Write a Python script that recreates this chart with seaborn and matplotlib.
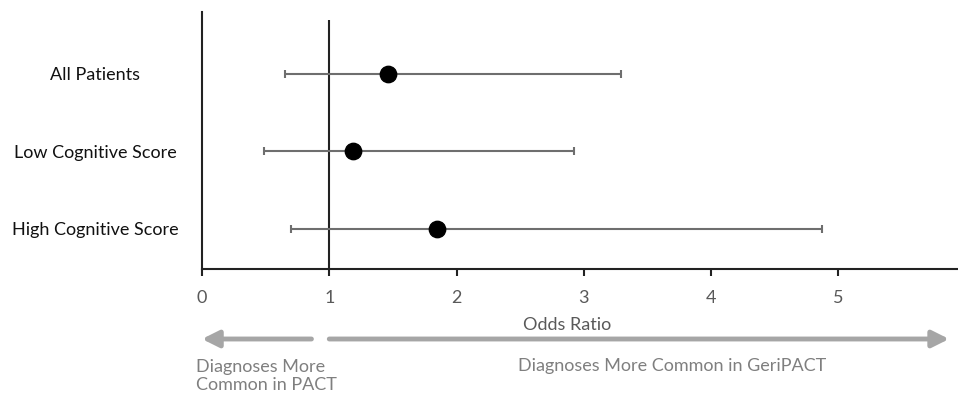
import matplotlib.pyplot as plt
import pandas as pd
import seaborn as sns

groups = ["All Patients", "Low Cognitive Score", "High Cognitive Score"]
odds_ratio = [1.46, 1.19, 1.85]
ci_low = [0.65, 0.49, 0.70]
ci_high = [3.29, 2.92, 4.87]
x_ticks = [0, 1, 2, 3, 4, 5]

df = pd.DataFrame({"group": groups, "or": odds_ratio, "lo": ci_low, "hi": ci_high})
df["pos"] = range(len(df))

sns.set_style("white")
plt.rcParams["font.family"] = ["Lato", "DejaVu Sans"]

fig = plt.figure(figsize=(9.58, 3.96), dpi=100)
ax = fig.add_axes([202 / 958, 127 / 396, 756 / 958, 257 / 396])

ax.errorbar(df["or"], df["pos"], xerr=[df["or"] - df["lo"], df["hi"] - df["or"]],
            fmt="none", ecolor="#6e6e6e", elinewidth=1.5, capsize=3, capthick=1.5, zorder=2)
sns.scatterplot(data=df, x="or", y="pos", color="black", s=140, edgecolor="black",
                zorder=3, ax=ax)
ax.vlines(1, -0.7, 2.52, color="#222222", lw=1.5, zorder=1)

ax.set_xlim(0, 5.94)
ax.set_ylim(2.52, -0.8)
ax.set_xticks(x_ticks)
ax.set_xticklabels([str(t) for t in x_ticks], fontsize=13, color="#595959")
ax.set_yticks(df["pos"])
ax.set_yticklabels(df["group"], fontsize=13, color="#111111", ha="center")
ax.tick_params(axis="y", length=0, pad=77)
ax.tick_params(axis="x", length=5, width=1.5, color="#222222", direction="out", pad=10, bottom=True)

for side in ["top", "right"]:
    ax.spines[side].set_visible(False)
for side in ["left", "bottom"]:
    ax.spines[side].set_color("#222222")
    ax.spines[side].set_linewidth(1.5)

ax.set_xlabel("Odds Ratio", fontsize=13, color="#595959")
ax.set_ylabel("")
ax.xaxis.set_label_coords(0.483, -0.185)

arrow_color = "#a6a6a6"
arrow_y = 1 - 339 / 396
ax.annotate("", xy=(0.0, arrow_y), xytext=(0.86, arrow_y),
            xycoords=("data", "figure fraction"), textcoords=("data", "figure fraction"),
            arrowprops=dict(arrowstyle="-|>,head_length=1.0,head_width=0.5", color=arrow_color,
                            lw=3.5, shrinkA=0, shrinkB=0), annotation_clip=False)
ax.annotate("", xy=(5.87, arrow_y), xytext=(1.0, arrow_y),
            xycoords=("data", "figure fraction"), textcoords=("data", "figure fraction"),
            arrowprops=dict(arrowstyle="-|>,head_length=1.0,head_width=0.5", color=arrow_color,
                            lw=3.5, shrinkA=0, shrinkB=0), annotation_clip=False)

fig.text(196 / 958, 1 - 376 / 396, "Diagnoses More\nCommon in PACT", fontsize=13,
         color="#7f7f7f", ha="left", va="center", linespacing=1.2)
fig.text(672 / 958, 1 - 366 / 396, "Diagnoses More Common in GeriPACT", fontsize=13,
         color="#7f7f7f", ha="center", va="center")

fig.savefig("out.png", dpi=100)
